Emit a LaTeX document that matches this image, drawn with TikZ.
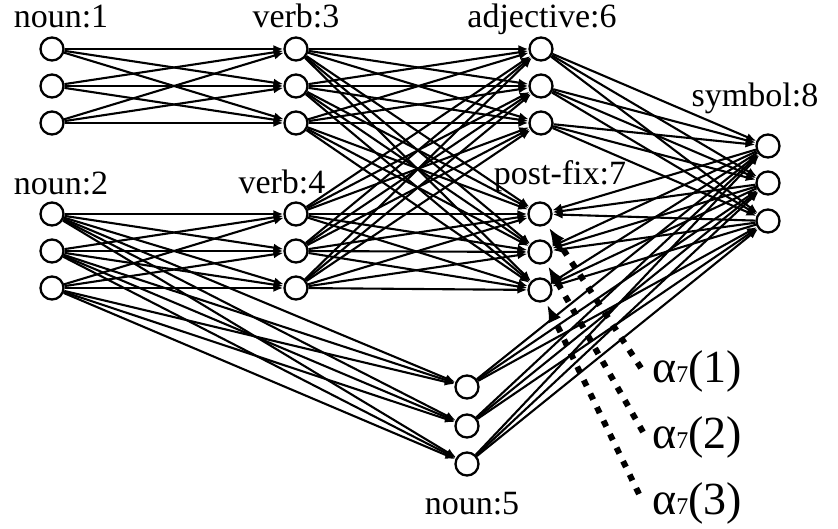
\documentclass[tikz,border=0pt]{standalone}
\usepackage{fontspec}
\setmainfont{Liberation Serif}
\usetikzlibrary{arrows.meta,calc}
\begin{document}
\begin{tikzpicture}[x=1pt,y=-1pt,
  unit/.style={circle,draw,line width=2.3pt,minimum size=23pt,inner sep=0pt,fill=white},
  lbl/.style={font=\fontsize{34}{40}\selectfont,anchor=base,inner sep=0pt},
  alab/.style={font=\fontsize{46}{50}\selectfont,anchor=base west,inner sep=0pt},
  link/.style={line width=2.1pt,-{Latex[length=10pt,width=8pt]}},
  probe/.style={line width=6pt,dash pattern=on 6.5pt off 8.5pt,-{Latex[length=17pt,width=14pt]},shorten >=4pt}]
\useasboundingbox (0,0) rectangle (838,529);
% nodes
\foreach \k/\y in {1/49,2/86,3/123}{
  \node[unit] (n1\k) at (52,\y) {};
  \node[unit] (v3\k) at (296,\y) {};
  \node[unit] (a6\k) at (541,\y) {};
}
\foreach \k/\y in {1/214,2/251,3/288}{
  \node[unit] (n2\k) at (52,\y) {};
  \node[unit] (v4\k) at (296,\y) {};
}
\foreach \k/\y in {1/214,2/252,3/290}{
  \node[unit] (p7\k) at (540,\y) {};
}
\foreach \k/\y in {1/146,2/183,3/221}{
  \node[unit] (s8\k) at (768,\y) {};
}
\foreach \k/\y in {1/387,2/426,3/464}{
  \node[unit] (n5\k) at (467,\y) {};
}
% labels
\node[lbl] (ln1) at (61,28) {noun:1};
\node[lbl] (lv3) at (296,28) {verb:3};
\node[lbl] (la6) at (542,28) {adjective:6};
\node[lbl] (ln2) at (61,195) {noun:2};
\node[lbl] (lv4) at (282,194) {verb:4};
\node[lbl] (lp7) at (560,185) {post-fix:7};
\node[lbl] (ls8) at (755,107) {symbol:8};
\node[lbl] (ln5) at (472,514) {noun:5};
\node[alab] (al1) at (652,382) {α{\fontsize{24}{24}\selectfont 7}(1)};
\node[alab] (al2) at (652,448) {α{\fontsize{24}{24}\selectfont 7}(2)};
\node[alab] (al3) at (652,514) {α{\fontsize{24}{24}\selectfont 7}(3)};
% connectors
\foreach \i in {1,2,3}{
  \foreach \j in {1,2,3}{
    \draw[link] (n1\i) -- (v3\j);
    \draw[link] (n2\i) -- (v4\j);
    \draw[link] (n2\i) -- (n5\j);
    \draw[link] (v3\i) -- (a6\j);
    \draw[link] (v3\i) -- (p7\j);
    \draw[link] (v4\i) -- (a6\j);
    \draw[link] (v4\i) -- (p7\j);
    \draw[link] (a6\i) -- (s8\j);
    \draw[link] (n5\i) -- (s8\j);
    \draw[link] (s8\i) -- (p7\j);
  }
}
% alpha probes
\coordinate (q1) at (641,368);
\coordinate (q2) at (643,432);
\coordinate (q3) at (639,494);
\draw[probe] (q1) -- (p71);
\draw[probe] (q2) -- (p72);
\draw[probe] (q3) -- (p73);
\end{tikzpicture}
\end{document}
